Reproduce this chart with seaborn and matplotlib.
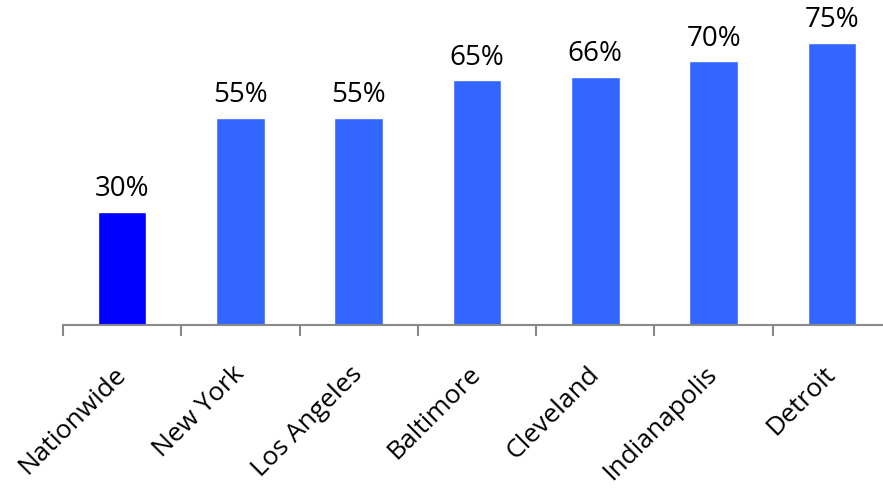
import matplotlib
matplotlib.use("Agg")
import matplotlib.pyplot as plt
import seaborn as sns
import pandas as pd
import numpy as np

cities = ["Nationwide", "New York", "Los Angeles", "Baltimore", "Cleveland", "Indianapolis", "Detroit"]
shares = [30, 55, 55, 65, 66, 70, 75]
bar_colors = ["#0000FF", "#3366FF", "#3366FF", "#3366FF", "#3366FF", "#3366FF", "#3366FF"]

sns.set_style("white")
plt.rcParams["font.family"] = ["Open Sans", "DejaVu Sans"]

df = pd.DataFrame({"city": cities, "share": shares})

fig = plt.figure(figsize=(8.83, 4.89), dpi=100)
ax = fig.add_axes([63 / 883, 163 / 489, 828 / 883, 320 / 489])

sns.barplot(data=df, x="city", y="share", hue="city", palette=bar_colors,
            width=0.41, legend=False, ax=ax, saturation=1)

for container, v in zip(ax.containers, shares):
    ax.bar_label(container, labels=[f"{v}%"], padding=7, fontsize=20, color="#000000")

ax.set_xlim(-0.5, len(cities) - 0.5)
ax.set_ylim(0, 85)
ax.set_xlabel("")
ax.set_ylabel("")
ax.set_yticks([])

for side in ["top", "right", "left"]:
    ax.spines[side].set_visible(False)
ax.spines["bottom"].set_color("#898989")
ax.spines["bottom"].set_linewidth(1.5)

ax.set_xticks(np.arange(len(cities)))
ax.set_xticklabels(cities, rotation=45, ha="right", va="center",
                   rotation_mode="anchor", fontsize=19, color="#000000")
ax.tick_params(axis="x", which="major", bottom=True, length=0, pad=32)
ax.set_xticks(np.arange(len(cities) + 1) - 0.5, minor=True)
ax.tick_params(axis="x", which="minor", bottom=True, length=8, width=1.5,
               color="#898989", direction="out")

fig.savefig("out.png", dpi=100)
